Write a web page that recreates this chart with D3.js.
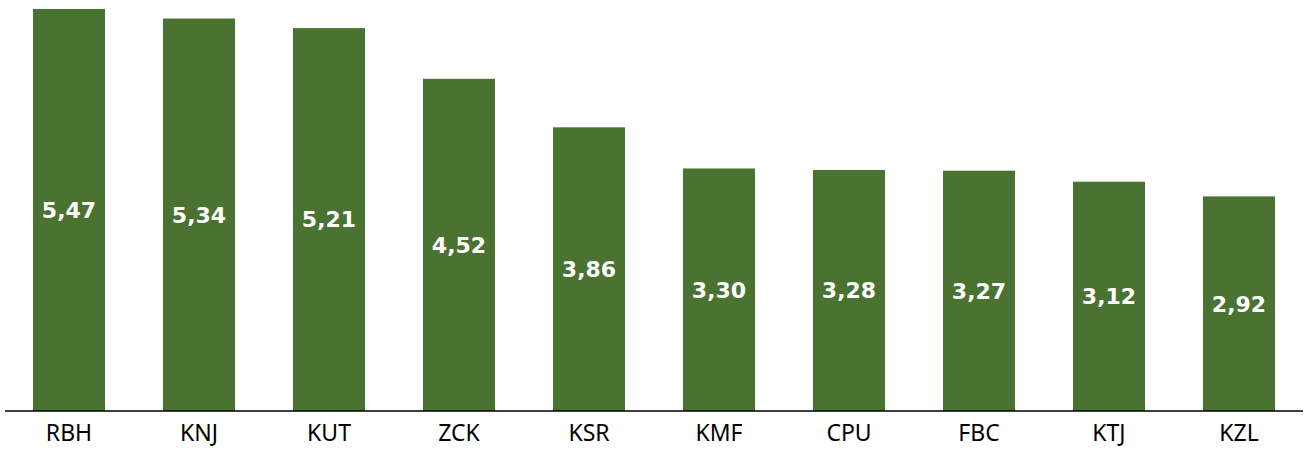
<!DOCTYPE html>
<html>
<head>
<meta charset="utf-8">
<script src="https://cdn.jsdelivr.net/npm/d3@7"></script>
<style>
body { margin: 0; background: #fff; }
</style>
</head>
<body>
<div id="chart"></div>
<script>
const codes = ["RBH", "KNJ", "KUT", "ZCK", "KSR", "KMF", "CPU", "FBC", "KTJ", "KZL"];
const values = [5.47, 5.34, 5.21, 4.52, 3.86, 3.30, 3.28, 3.27, 3.12, 2.92];

const width = 1311, height = 454;
const svg = d3.select("#chart").append("svg")
  .attr("width", width).attr("height", height);

const x = d3.scaleBand().domain(codes).range([4, 1304]).paddingInner(0.446).paddingOuter(0.223);
const y = d3.scaleLinear().domain([0, 5.47]).range([411, 9]);

const fmt = v => v.toFixed(2).replace(".", ",");

svg.selectAll("rect.bar").data(codes).enter().append("rect")
  .attr("class", "bar")
  .attr("x", d => x(d))
  .attr("y", (d, i) => y(values[i]))
  .attr("width", x.bandwidth())
  .attr("height", (d, i) => y(0) - y(values[i]))
  .attr("fill", "#4a7230");

svg.selectAll("text.val").data(codes).enter().append("text")
  .attr("class", "val")
  .attr("x", d => x(d) + x.bandwidth() / 2)
  .attr("y", (d, i) => (y(values[i]) + y(0)) / 2)
  .attr("dy", "0.36em")
  .attr("text-anchor", "middle")
  .attr("fill", "#fff")
  .style("font-family", "DejaVu Sans")
  .style("font-weight", "bold")
  .style("font-size", "22px")
  .text((d, i) => fmt(values[i]));

const axis = d3.axisBottom(x).tickSize(0).tickPadding(14);
const g = svg.append("g").attr("transform", "translate(0,411)").call(axis);
g.select(".domain").attr("stroke", "#000").attr("stroke-width", 1.5)
  .attr("d", "M5,0H1303");
g.selectAll("text")
  .style("font-family", "Noto Sans")
  .style("font-size", "23px")
  .attr("fill", "#000");
</script>
</body>
</html>
